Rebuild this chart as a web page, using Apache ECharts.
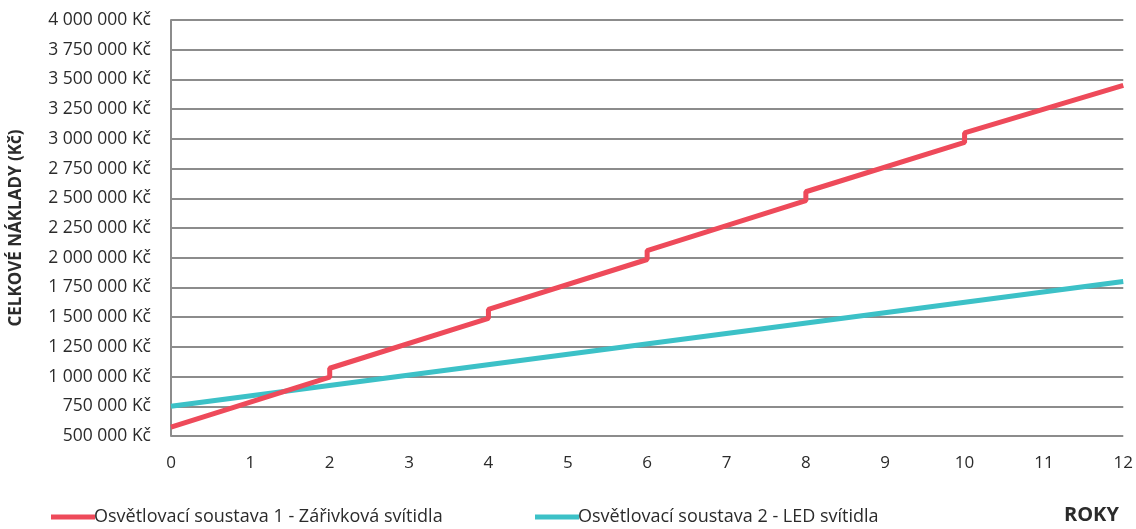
<!DOCTYPE html>
<html>
<head>
<meta charset="utf-8">
<script src="https://cdn.jsdelivr.net/npm/echarts@6/dist/echarts.min.js"></script>
<style>
  html, body { margin: 0; padding: 0; background: #fff; }
  #chart { width: 1136px; height: 529px; }
</style>
</head>
<body>
<div id="chart"></div>
<script>
// Cumulative cost over years for two lighting systems
const seriesNames = [
  'Osvětlovací soustava 1 - Zářivková svítidla',
  'Osvětlovací soustava 2 - LED svítidla'
];
// Fluorescent system: linear growth with a lamp-replacement jump every 2 years
const fluorescentYears = [0, 2, 2, 4, 4, 6, 6, 8, 8, 10, 10, 12];
const fluorescentCost = [575000, 995000, 1070000, 1490000, 1565000, 1985000, 2060000, 2480000, 2555000, 2970000, 3050000, 3450000];
// LED system: linear growth
const ledYears = [0, 12];
const ledCost = [750000, 1800000];

const yearTicks = [0, 1, 2, 3, 4, 5, 6, 7, 8, 9, 10, 11, 12];
const yMin = 500000, yMax = 4000000, yStep = 250000;

const axisTitleY = 'CELKOVÉ NÁKLADY (Kč)';
const axisTitleX = 'ROKY';

function pairs(xs, ys) { return xs.map((x, i) => [x, ys[i]]); }
function formatKc(v) {
  return String(v).replace(/\B(?=(\d{3})+(?!\d))/g, ' ') + ' Kč';
}

const font = '"Open Sans", "Noto Sans", sans-serif';
const textColor = '#2b2b2b';
const legendText = { color: textColor, fontSize: 18, fontFamily: font, padding: [0, 0, 0, -6] };

const chart = echarts.init(document.getElementById('chart'));
chart.setOption({
  animation: false,
  backgroundColor: '#ffffff',
  textStyle: { fontFamily: font },
  grid: { left: 170, right: 11, top: 20, bottom: 93, containLabel: false },
  xAxis: {
    type: 'value',
    min: yearTicks[0],
    max: yearTicks[yearTicks.length - 1],
    interval: 1,
    axisLine: { show: false },
    axisTick: { show: false },
    splitLine: { show: false },
    axisLabel: { color: textColor, fontSize: 17, margin: 19, fontFamily: font }
  },
  yAxis: {
    type: 'value',
    min: yMin,
    max: yMax,
    interval: yStep,
    name: axisTitleY,
    nameLocation: 'middle',
    nameGap: 146,
    nameTextStyle: { color: textColor, fontSize: 17, fontWeight: 'bold', fontFamily: font },
    axisLine: { show: true, lineStyle: { color: '#8c8c8c', width: 2 } },
    axisTick: { show: false },
    splitLine: { show: true, lineStyle: { color: '#8c8c8c', width: 2 } },
    axisLabel: { color: textColor, fontSize: 17.5, margin: 20, fontFamily: font, formatter: formatKc }
  },
  legend: [
    {
      left: 46, top: 503,
      itemWidth: 44, itemHeight: 5, icon: 'rect',
      textStyle: legendText,
      data: [seriesNames[0]]
    },
    {
      left: 530, top: 503,
      itemWidth: 44, itemHeight: 5, icon: 'rect',
      textStyle: legendText,
      data: [seriesNames[1]]
    }
  ],
  graphic: [{
    type: 'text',
    left: 1064,
    top: 505,
    style: { text: axisTitleX, fill: textColor, font: 'bold 20px ' + font }
  }],
  series: [
    {
      name: seriesNames[0],
      type: 'line',
      data: pairs(fluorescentYears, fluorescentCost),
      showSymbol: false,
      symbol: 'none',
      color: '#ee4a5a',
      lineStyle: { width: 5, color: '#ee4a5a' },
      z: 3
    },
    {
      name: seriesNames[1],
      type: 'line',
      data: pairs(ledYears, ledCost),
      showSymbol: false,
      symbol: 'none',
      color: '#3cc1c7',
      lineStyle: { width: 5, color: '#3cc1c7' },
      z: 2
    }
  ]
});
</script>
</body>
</html>
